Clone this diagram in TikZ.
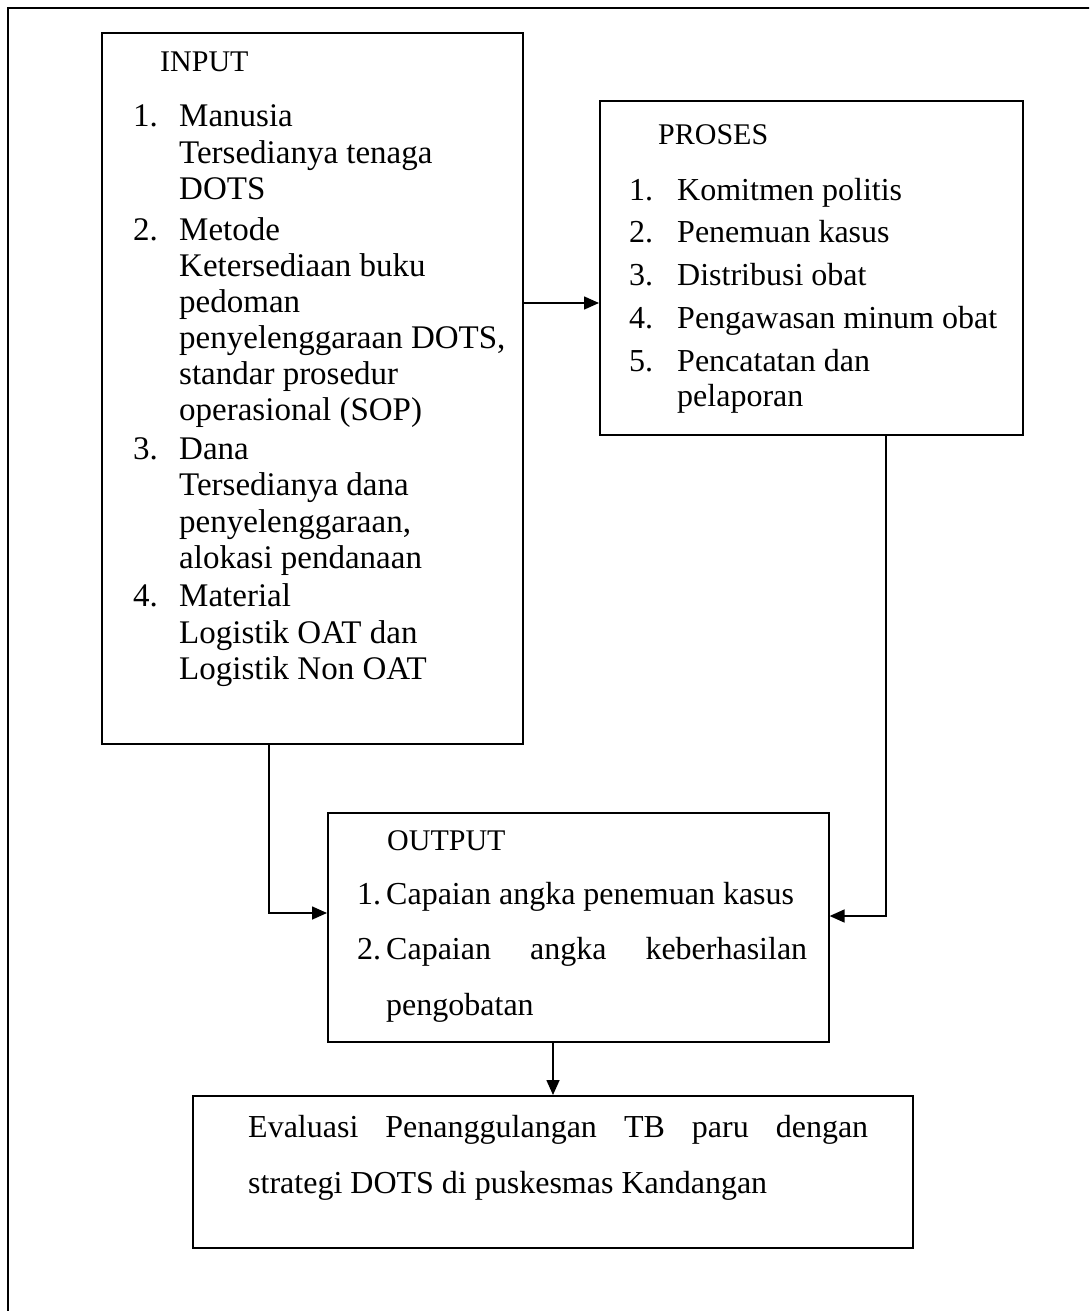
\documentclass[tikz,border=0pt]{standalone}
\usepackage{fontspec}
\setmainfont{Liberation Serif}
\usetikzlibrary{arrows.meta}
\tikzset{
  box/.style={draw, line width=1.6pt, inner sep=0pt, anchor=north west},
  txt/.style={inner sep=0pt, anchor=base west, font=\fontsize{32}{37}\selectfont},
  itxt/.style={inner sep=0pt, anchor=base west, font=\fontsize{33}{37}\selectfont},
  head/.style={inner sep=0pt, anchor=base west, font=\fontsize{30}{35}\selectfont},
  arr/.style={line width=1.6pt, -{Triangle[length=15pt,width=13pt]}},
  ln/.style={line width=1.6pt}
}
\begin{document}
\begin{tikzpicture}[x=1pt,y=-1pt]
\useasboundingbox (0,0) rectangle (1089,1311);
\clip (0,0) rectangle (1089,1311);
\draw[line width=2pt] (8,1320) -- (8,8) -- (1100,8);
% boxes
\node[box, minimum width=421pt, minimum height=711pt] (input) at (101,32) {};
\node[box, minimum width=423pt, minimum height=334pt] (proses) at (599,100) {};
\node[box, minimum width=501pt, minimum height=229pt] (output) at (327,812) {};
\node[box, minimum width=720pt, minimum height=152pt] (eval) at (192,1095) {};
% INPUT text
\node[head] (ih) at (160,72) {INPUT};
\node[itxt] (in1) at (133,127) {1.};
\node[itxt] (i1a) at (179,127) {Manusia};
\node[itxt] (i1b) at (179,163) {Tersedianya tenaga};
\node[itxt] (i1c) at (179,199) {DOTS};
\node[itxt] (in2) at (133,240) {2.};
\node[itxt] (i2a) at (179,240) {Metode};
\node[itxt] (i2b) at (179,276) {Ketersediaan buku};
\node[itxt] (i2c) at (179,312) {pedoman};
\node[itxt] (i2d) at (179,348) {penyelenggaraan DOTS,};
\node[itxt] (i2e) at (179,384) {standar prosedur};
\node[itxt] (i2f) at (179,420) {operasional (SOP)};
\node[itxt] (in3) at (133,459) {3.};
\node[itxt] (i3a) at (179,459) {Dana};
\node[itxt] (i3b) at (179,495) {Tersedianya dana};
\node[itxt] (i3c) at (179,532) {penyelenggaraan,};
\node[itxt] (i3d) at (179,568) {alokasi pendanaan};
\node[itxt] (in4) at (133,606) {4.};
\node[itxt] (i4a) at (179,606) {Material};
\node[itxt] (i4b) at (179,643) {Logistik OAT dan};
\node[itxt] (i4c) at (179,679) {Logistik Non OAT};
% PROSES text
\node[head] (ph) at (658,145) {PROSES};
\node[txt] (pn1) at (629,200) {1.};
\node[txt] (p1) at (677,200) {Komitmen politis};
\node[txt] (pn2) at (629,242) {2.};
\node[txt] (p2) at (677,242) {Penemuan kasus};
\node[txt] (pn3) at (629,285) {3.};
\node[txt] (p3) at (677,285) {Distribusi obat};
\node[txt] (pn4) at (629,328) {4.};
\node[txt] (p4) at (677,328) {Pengawasan minum obat};
\node[txt] (pn5) at (629,371) {5.};
\node[txt] (p5a) at (677,371) {Pencatatan dan};
\node[txt] (p5b) at (677,406) {pelaporan};
% OUTPUT text
\node[head] (oh) at (387,850) {OUTPUT};
\node[txt] (on1) at (357,904) {1.};
\node[txt] (o1) at (386,904) {Capaian angka penemuan kasus};
\node[txt] (on2) at (357,959) {2.};
\node[txt] (o2a) at (386,959) {\makebox[421pt][s]{Capaian angka keberhasilan}};
\node[txt] (o2b) at (386,1015) {pengobatan};
% EVAL text
\node[txt] (e1) at (248,1137) {\makebox[620pt][s]{Evaluasi Penanggulangan TB paru dengan}};
\node[txt] (e2) at (248,1193) {strategi DOTS di puskesmas Kandangan};
% connectors
\coordinate (a1) at (560,303);
\coordinate (b1) at (886,916);
\coordinate (c1) at (269,913);
\coordinate (d1) at (553,0);
\draw[arr] (input.east |- a1) -- (proses.west |- a1);
\draw[arr] (proses.south -| b1) |- (output.east |- b1);
\draw[arr] (input.south -| c1) |- (output.west |- c1);
\draw[arr] (output.south -| d1) -- (eval.north -| d1);
\end{tikzpicture}
\end{document}
